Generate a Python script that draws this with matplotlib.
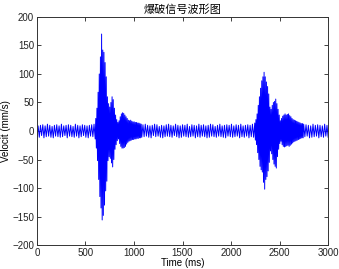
import numpy as np
import matplotlib
matplotlib.use("Agg")
import matplotlib.pyplot as plt
from matplotlib import font_manager

# sample times (ms): 12 ms in quiet stretches, 6 ms inside the two bursts
t_quiet_start = np.arange(0, 600, 12)
t_burst_1 = np.arange(600, 1086, 6)
t_quiet_mid = np.arange(1092, 2244, 12)
t_burst_2 = np.arange(2244, 2748, 6)
t_quiet_end = np.arange(2748, 3001, 12)

# velocity samples (mm/s)
quiet_start = [-10, 9, -11, 10, -8, 11, -12, 9, -10, 12,
               -9, 10, -11, 8, -12, 10, -9, 11, -10, 9,
               -11, 12, -10, 9, -8, 10, -12, 11, -9, 10,
               -10, 8, -11, 12, -9, 10, -12, 9, -10, 11,
               -8, 10, -11, 9, -12, 10, -9, 11, -10, 12]
burst_1 = [-14, 22, -30, 40, -52, 68, -85, 100, -115, 130,
           -135, 170, -156, 142, -148, 138, -130, 120, -105, 95,
           -88, 60, -52, 48, -45, 42, -48, 50, -56, 60,
           -63, 55, -50, 40, -32, 28, -24, 20, -17, 15,
           -14, 18, -22, 25, -27, 30, -30, 32, -30, 31,
           -29, 28, -27, 25, -23, 22, -20, 19, -18, 18,
           -17, 19, -16, 17, -15, 16, -15, 16, -14, 15,
           -14, 15, -13, 14, -13, 14, -12, 13, -12, 12,
           -11]
quiet_mid = [11, -10, 12, -9, 10, -11, 9, -12, 10, -8,
             12, -10, 11, -9, 8, -11, 10, -12, 9, -10,
             11, -9, 12, -10, 10, -11, 9, -8, 12, -10,
             10, -12, 9, -11, 11, -9, 10, -10, 12, -11,
             8, -10, 11, -9, 10, -12, 9, -10, 12, -11,
             10, -9, 11, -10, 9, -12, 10, -11, 12, -9,
             11, -10, 8, -11, 10, -9, 12, -10, 9, -11,
             10, -12, 11, -9, 10, -10, 12, -11, 9, -10,
             11, -9, 10, -12, 12, -10, 9, -11, 10, -9,
             11, -12, 10, -10, 12, -11]
burst_2 = [14, -16, 20, -24, 30, -38, 45, -50, 60, -62,
           75, -68, 88, -72, 95, -90, 103, -102, 95, -85,
           86, -80, 78, -70, 65, -55, 42, -35, 38, -40,
           45, -50, 50, -58, 52, -62, 56, -65, 48, -45,
           38, -32, 28, -22, 18, -18, 22, -24, 26, -27,
           28, -28, 30, -27, 28, -26, 29, -25, 30, -27,
           27, -25, 25, -23, 22, -21, 20, -19, 19, -18,
           18, -17, 17, -16, 16, -15, 15, -14, 14, -13,
           13, -12, 13, -12]
quiet_end = [12, -10, 11, -9, 10, -12, 9, -11, 12, -10,
             10, -9, 11, -12, 10, -10, 9, -11, 12, -9,
             10, -11]

t_ms = np.concatenate([t_quiet_start, t_burst_1, t_quiet_mid, t_burst_2, t_quiet_end])
velocity = np.array(quiet_start + burst_1 + quiet_mid + burst_2 + quiet_end)

x_ticks = [0, 500, 1000, 1500, 2000, 2500, 3000]
y_ticks = [-200, -150, -100, -50, 0, 50, 100, 150, 200]

names = {f.name for f in font_manager.fontManager.ttflist}
tick_font = "Liberation Sans Narrow" if "Liberation Sans Narrow" in names else "Liberation Sans"

fig = plt.figure(figsize=(3.39, 2.69), dpi=100)
ax = fig.add_axes([0.109, 0.089, 0.859, 0.848])

ax.plot(t_ms, velocity, color="#0000ff", linewidth=0.7)

ax.set_xlim(0, 3000)
ax.set_ylim(-200, 200)
ax.set_xticks(x_ticks)
ax.set_yticks(y_ticks)
ax.tick_params(direction="in", length=3, width=0.6, labelsize=7,
               top=True, right=True, pad=2, colors="#222222")
for lab in ax.get_xticklabels() + ax.get_yticklabels():
    lab.set_fontfamily(tick_font)
for sp in ax.spines.values():
    sp.set_linewidth(0.7)
    sp.set_color("#333333")

ax.set_xlabel("Time (ms)", fontsize=7, family=tick_font, labelpad=0)
ax.set_ylabel("Velocit (mm/s)", fontsize=7, family=tick_font, labelpad=1)
ax.set_title("爆破信号波形图", fontsize=8,
             family=["Noto Sans CJK SC", "DejaVu Sans"], pad=3)

fig.savefig("out.png", dpi=100)
